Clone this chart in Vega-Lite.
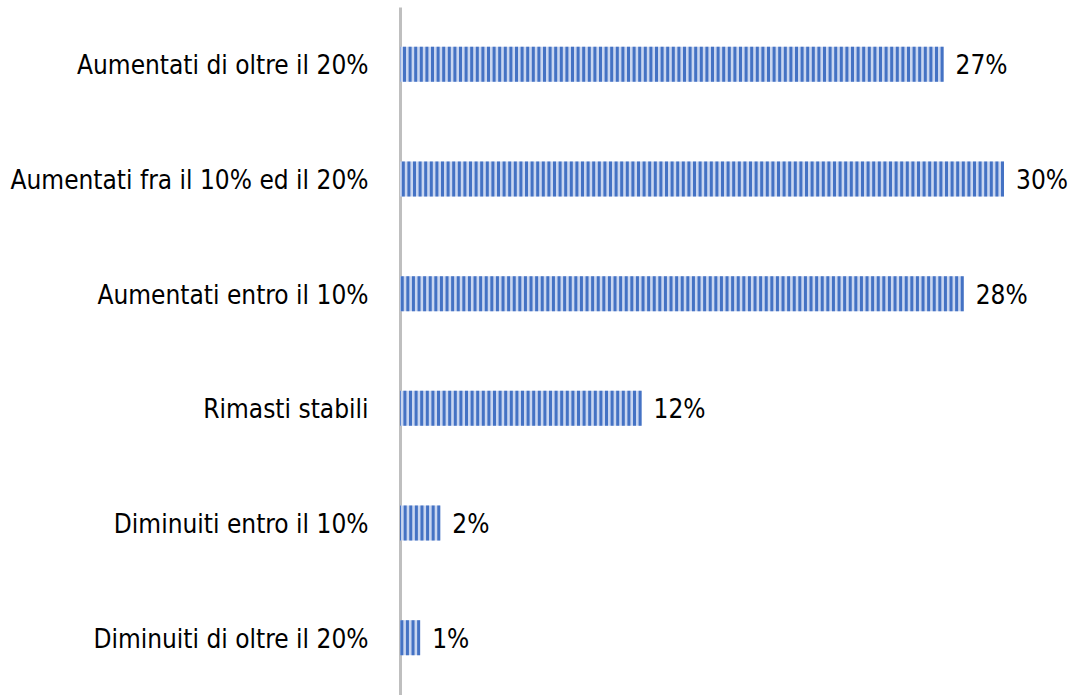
{
  "$schema": "https://vega.github.io/schema/vega-lite/v6.json",
  "width": 604,
  "height": 688,
  "autosize": {"type": "none"},
  "padding": {"left": 400, "top": 7, "right": 67, "bottom": 0},
  "background": "white",
  "config": {
    "view": {"stroke": null},
    "font": "DejaVu Sans Condensed, sans-serif"
  },
  "data": {
    "values": [
      {"categoria": "Aumentati di oltre il 20%", "valore": 27, "etichetta": "27%"},
      {"categoria": "Aumentati fra il 10% ed il 20%", "valore": 30, "etichetta": "30%"},
      {"categoria": "Aumentati entro il 10%", "valore": 28, "etichetta": "28%"},
      {"categoria": "Rimasti stabili", "valore": 12, "etichetta": "12%"},
      {"categoria": "Diminuiti entro il 10%", "valore": 2, "etichetta": "2%"},
      {"categoria": "Diminuiti di oltre il 20%", "valore": 1, "etichetta": "1%"}
    ]
  },
  "encoding": {
    "y": {
      "field": "categoria",
      "type": "nominal",
      "sort": null,
      "scale": {"paddingInner": 0.695, "paddingOuter": 0.3475},
      "axis": {
        "title": null,
        "domain": true,
        "domainColor": "#bfbfbf",
        "domainWidth": 3,
        "ticks": false,
        "grid": false,
        "labelPadding": 32,
        "labelFontSize": 26,
        "labelColor": "#000000",
        "labelFont": "DejaVu Sans Condensed, sans-serif",
        "labelLimit": 400,
        "labelOffset": 2
      }
    }
  },
  "layer": [
    {
      "mark": {"type": "bar", "fill": "#c9d6f0"},
      "encoding": {
        "x": {
          "field": "valore",
          "type": "quantitative",
          "scale": {"domain": [0, 30], "nice": false, "zero": true},
          "axis": null
        }
      }
    },
    {
      "mark": {"type": "rule", "color": "#4472C4", "strokeWidth": 35, "strokeDash": [3, 2.6], "strokeCap": "butt"},
      "encoding": {
        "x": {"field": "valore", "type": "quantitative"},
        "x2": {"datum": 0}
      }
    },
    {
      "mark": {"type": "text", "align": "left", "baseline": "middle", "dx": 12, "dy": 2, "fontSize": 26, "color": "#000000"},
      "encoding": {
        "x": {"field": "valore", "type": "quantitative"},
        "text": {"field": "etichetta"}
      }
    }
  ]
}
